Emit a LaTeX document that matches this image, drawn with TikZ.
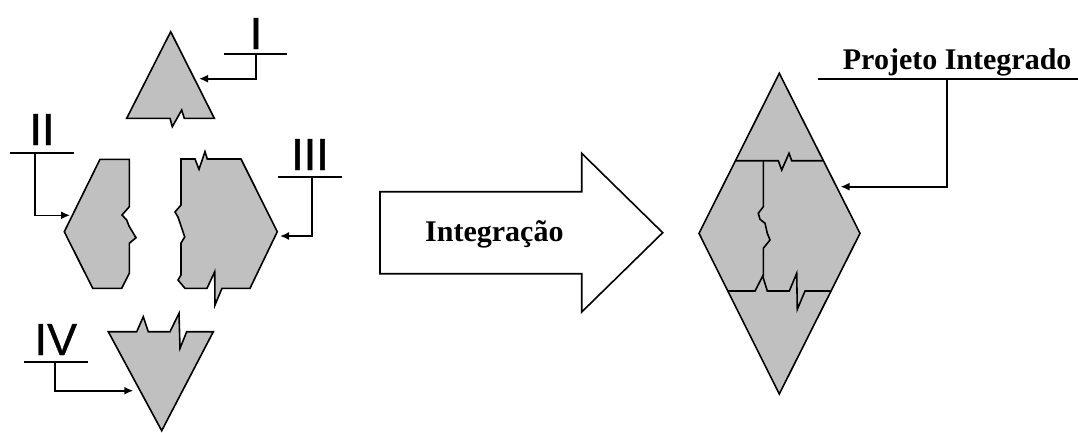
\documentclass[tikz,border=0pt]{standalone}
\usepackage{fontspec}
\setmainfont{Liberation Serif}
\newfontfamily\labelfont[FakeBold=0.8]{Liberation Sans}
\usetikzlibrary{arrows.meta}
\definecolor{shapegray}{RGB}{192,192,192}

\begin{document}
\begin{tikzpicture}[x=1pt,y=-1pt,
  piece/.style={fill=shapegray, draw=black, line width=1.6pt, line join=miter},
  seam/.style={draw=black, line width=1.6pt},
  leader/.style={draw=black, line width=1.6pt, -{Latex[length=9pt,width=8pt]}},
  rulebar/.style={draw=black, line width=1.8pt},
  roman/.style={font=\labelfont\fontsize{45}{45}\selectfont, inner sep=0pt, anchor=base},
  caption/.style={font=\bfseries\fontsize{30}{30}\selectfont, inner sep=0pt, anchor=base west}]
\useasboundingbox (0,0) rectangle (1078,432);

% ---- piece I : upper triangle ----
\draw[piece] (126.7,118.3) -- (170,118.3) -- (172.3,126.7) -- (181.7,110) -- (184.3,118.3)
  -- (214.3,118.3) -- (170.7,31.7) -- cycle;

% ---- piece II : left half of the hexagon ----
\draw[piece] (100,159.3) -- (129.3,159.3) -- (129.3,206.7) -- (122,215) -- (126.7,220)
  -- (129,226) -- (136,237.7) -- (129.3,243.3) -- (129.3,273.3) -- (121.7,288.3)
  -- (92.7,288.3) -- (64.3,231.7) -- cycle;

% ---- piece III : right half of the hexagon ----
\draw[piece] (181,159) -- (195,159) -- (199,169.3) -- (205,151.7) -- (207.3,159)
  -- (241,159) -- (277.3,231.7) -- (250,288.3) -- (222,288.3) -- (215,305)
  -- (214.7,271.7) -- (207,288.3) -- (185,288.3) -- (178,280) -- (181,275)
  -- (181,243) -- (184.7,237) -- (178,217) -- (175,212) -- (181,205) -- cycle;

% ---- piece IV : lower triangle ----
\draw[piece] (108.3,331.7) -- (136.7,331.7) -- (143.3,316.7) -- (148.3,331.7)
  -- (170,331.7) -- (179,313.3) -- (180,348.3) -- (186.7,331.7) -- (213.3,331.7)
  -- (161.7,430.7) -- cycle;

% ---- roman labels with their leaders ----
\node[roman] (labI) at (256,49) {I};
\coordinate (Ia) at (224.3,54.3); \coordinate (Ib) at (287.3,54.3);
\coordinate (Ij) at (256,54.3);   \coordinate (It) at (199,78.7);
\draw[rulebar] (Ia) -- (Ib);
\draw[leader] (Ij) |- (It);

\node[roman] (labII) at (42,145) {II};
\coordinate (IIa) at (10,152.7); \coordinate (IIb) at (74,152.7);
\coordinate (IIj) at (35,152.7); \coordinate (IIt) at (70,215.3);
\draw[rulebar] (IIa) -- (IIb);
\draw[leader] (IIj) |- (IIt);

\node[roman] (labIII) at (310,170) {III};
\coordinate (IIIa) at (278.3,176.7); \coordinate (IIIb) at (342.3,176.7);
\coordinate (IIIj) at (311.7,176.7); \coordinate (IIIt) at (280,236);
\draw[rulebar] (IIIa) -- (IIIb);
\draw[leader] (IIIj) |- (IIIt);

\node[roman] (labIV) at (55.8,355) {IV};
\coordinate (IVa) at (24,361.7); \coordinate (IVb) at (88.3,361.7);
\coordinate (IVj) at (55,361.7); \coordinate (IVt) at (133.3,390.7);
\draw[rulebar] (IVa) -- (IVb);
\draw[leader] (IVj) |- (IVt);

% ---- block arrow ----
\draw[draw=black, fill=white, line width=1.6pt] (380,191.7) -- (581.7,191.7) -- (581.7,153.3)
  -- (662.7,232.7) -- (581.7,312) -- (581.7,273.7) -- (380,273.7) -- cycle;
\node[caption] (integ) at (425,241.7) {Integração};

% ---- assembled diamond ----
\draw[piece] (779.3,73.3) -- (860,233.3) -- (779.3,394) -- (699,233.3) -- cycle;
% upper seam
\draw[seam] (736.2,160.7) -- (778.3,160.7) -- (781.7,170) -- (789,153.3) -- (791.7,160.7)
  -- (823.3,160.7);
% vertical seam
\draw[seam] (763.3,160.7) -- (763.3,206.7) -- (758.3,213.3) -- (760,219.3) -- (765,223.3)
  -- (767.3,233.3) -- (770,240) -- (767.3,243.3) -- (763.3,248.3) -- (763.3,276);
% lower seam
\draw[seam] (728,291) -- (755,291) -- (762.7,276) -- (767.3,291) -- (789.3,291)
  -- (796.7,273.3) -- (797.3,309.3) -- (805,291) -- (830.5,291);

% ---- title with leader ----
\node[caption] (proj) at (842.7,69.3) {Projeto Integrado};
\coordinate (Pa) at (818.3,79); \coordinate (Pb) at (1078,79);
\coordinate (Pj) at (946.7,79); \coordinate (Pt) at (840.5,186.7);
\draw[rulebar] (Pa) -- (Pb);
\draw[leader] (Pj) |- (Pt);
\end{tikzpicture}
\end{document}
